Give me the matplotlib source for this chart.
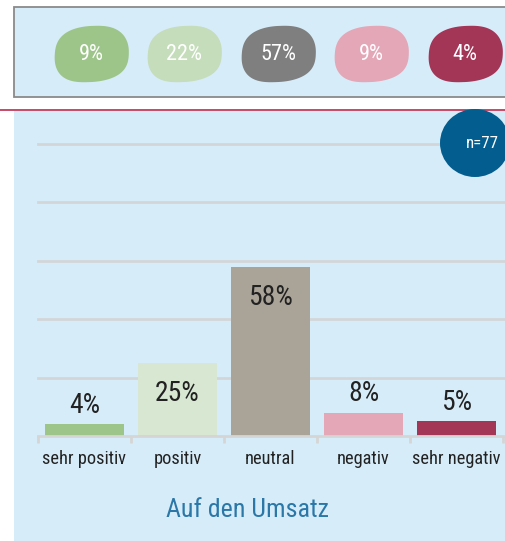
import numpy as np
import matplotlib
matplotlib.use("Agg")
import matplotlib.pyplot as plt
from matplotlib.patches import Rectangle, Ellipse, Polygon
from matplotlib import font_manager

names = {f.name for f in font_manager.fontManager.ttflist}
fam = [f for f in ['Roboto Condensed', 'Liberation Sans Narrow', 'Roboto'] if f in names] + ['DejaVu Sans']
plt.rcParams['font.family'] = fam
condensed = fam[0] != 'Roboto'

# data
categories = ["sehr positiv", "positiv", "neutral", "negativ", "sehr negativ"]
values = [4, 25, 58, 8, 5]
bar_colors = ["#9dc58a", "#d7e7d2", "#aaa398", "#e4a7b7", "#a33557"]
top_values = [9, 22, 57, 9, 4]
top_colors = ["#9dc58a", "#c5ddbb", "#7f7f7f", "#e4a7b7", "#a33557"]
title = "Auf den Umsatz"
n_label = "n=77"
grid_ticks = [20, 40, 60, 80, 100]

k = 1.12 if condensed else 1.0

W, H = 505, 541
fig = plt.figure(figsize=(W / 100, H / 100), dpi=100)
fig.patch.set_facecolor("white")

# background overlay in pixel coords
bg = fig.add_axes([0, 0, 1, 1], zorder=0)
bg.set_xlim(0, W); bg.set_ylim(H, 0); bg.axis("off")
panel_col = "#d7ecf9"
bg.add_patch(Rectangle((14, 7), 520, 90, facecolor=panel_col, edgecolor="#8a8a8a", lw=1.3))
bg.add_patch(Rectangle((14, 111), 520, 440, facecolor=panel_col, edgecolor="none"))
bg.plot([0, W], [110, 110], color="#c23a5c", lw=1.3)

def blob(cx, cy, w, h):
    t = np.linspace(0, 2 * np.pi, 300)
    n = 2.35
    ct, st = np.cos(t), np.sin(t)
    x = np.sign(ct) * np.abs(ct) ** (2 / n)
    y = np.sign(st) * np.abs(st) ** (2 / n)
    # slight asymmetry (organic blob)
    x = x * (1 + 0.03 * np.sin(t + 0.8))
    y = y * (1 + 0.05 * np.cos(2 * t + 0.9))
    x = x - 0.04 * y
    return np.column_stack([cx + x * w / 2, cy + y * h / 2])

blob_centers = [91, 184, 278, 371, 465]
for cx, v, c in zip(blob_centers, top_values, top_colors):
    bg.add_patch(Polygon(blob(cx, 54, 74, 58), closed=True, facecolor=c, edgecolor="none"))
    bg.text(cx, 55, f"{v}%", ha="center", va="center", color="white", fontsize=14.3 * k)

bg.text(247, 510, title, ha="center", va="center", color="#2b78a8", fontsize=16.7 * k)

# main bar axes
x0, x1, yb, yt = 38, 503, 436, 144
ax = fig.add_axes([x0 / W, 1 - yb / H, (x1 - x0) / W, (yb - yt) / H], zorder=1)
ax.patch.set_alpha(0)
xs = np.arange(len(categories))
ax.bar(xs, values, width=0.84, color=bar_colors, zorder=2)
ax.set_xlim(-0.5, len(categories) - 0.5)
ax.set_ylim(0, 100)
for g in grid_ticks:
    ax.axhline(g, color="#d3d6d9", lw=2, zorder=1, clip_on=False, xmax=1.01)
for x, v in zip(xs, values):
    y = v - 10.5 if v > 20 else v + 6.5
    ax.text(x, y, f"{v}%", ha="center", va="center", fontsize=17.8 * k, color="#222222", zorder=3)
for s in ["top", "right", "left"]:
    ax.spines[s].set_visible(False)
ax.spines["bottom"].set_color("#d5d5d5")
ax.spines["bottom"].set_linewidth(2)
ax.set_yticks([])
ax.set_xticks(xs)
ax.set_xticklabels(categories, fontsize=11.8 * k, color="#222222")
ax.tick_params(axis="x", which="major", length=0, pad=10)
ax.set_xticks(np.arange(-0.5, len(categories)), minor=True)
ax.tick_params(axis="x", which="minor", length=5, width=2, color="#d5d5d5")

# foreground overlay
fg = fig.add_axes([0, 0, 1, 1], zorder=2)
fg.set_xlim(0, W); fg.set_ylim(H, 0); fg.axis("off")
fg.patch.set_alpha(0)
fg.add_patch(Ellipse((475, 143), 70, 68, facecolor="#035e8f", edgecolor="none"))
fg.text(482, 143, n_label, ha="center", va="center", color="white", fontsize=10.8 * k)

fig.savefig("out.png", dpi=100)
